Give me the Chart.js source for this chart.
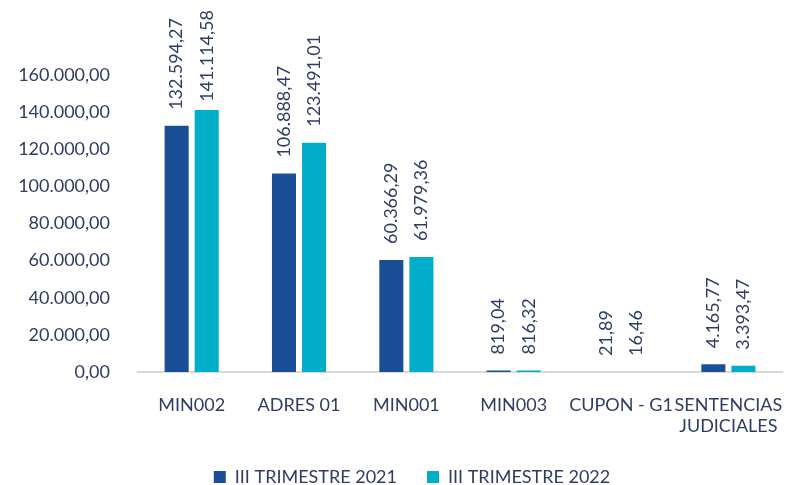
<!DOCTYPE html>
<html>
<head>
<meta charset="utf-8">
<script src="https://cdn.jsdelivr.net/npm/chart.js@4.4.0/dist/chart.umd.min.js"></script>
<style>
  html, body { margin: 0; padding: 0; background: #fff; }
  #wrap { width: 797px; height: 485px; }
</style>
</head>
<body>
<div id="wrap"><canvas id="c"></canvas></div>
<script>
// --- data ---
const categories = ['MIN002', 'ADRES 01', 'MIN001', 'MIN003', 'CUPON - G1', ['SENTENCIAS', 'JUDICIALES']];
const seriesNames = ['III TRIMESTRE 2021', 'III TRIMESTRE 2022'];
const values2021 = [132594.27, 106888.47, 60366.29, 819.04, 21.89, 4165.77];
const values2022 = [141114.58, 123491.01, 61979.36, 816.32, 16.46, 3393.47];
const yTicks = [0, 20000, 40000, 60000, 80000, 100000, 120000, 140000, 160000];

const TEXT = '#2E3D63';
const FONT = 'Lato, "Open Sans", sans-serif';

// 132594.27 -> "132.594,27"
function fmt(v) {
    const parts = v.toFixed(2).split('.');
    const int = parts[0].replace(/\B(?=(\d{3})+(?!\d))/g, '.');
    return int + ',' + parts[1];
}

// vertical value labels above each bar
const barLabels = {
    id: 'barLabels',
    afterDatasetsDraw(chart) {
        const ctx = chart.ctx;
        ctx.save();
        ctx.font = '18px ' + FONT;
        ctx.fillStyle = TEXT;
        ctx.textAlign = 'left';
        ctx.textBaseline = 'middle';
        chart.data.datasets.forEach((ds, di) => {
            chart.getDatasetMeta(di).data.forEach((bar, i) => {
                const txt = fmt(ds.data[i]);
                const w = ctx.measureText(txt).width;
                let y = bar.y - 16;
                if (y - w < 10) y = 10 + w;
                ctx.save();
                ctx.translate(bar.x, y);
                ctx.rotate(-Math.PI / 2);
                ctx.fillText(txt, 0, 0);
                ctx.restore();
            });
        });
        ctx.restore();
    }
};

// legend sits a bit right of centre in the original
const legendShift = {
    id: 'legendShift',
    afterLayout(chart) {
        chart.legend.left += 18;
        chart.legend.right += 18;
    }
};

new Chart(document.getElementById('c'), {
    type: 'bar',
    data: {
        labels: categories,
        datasets: [
            { label: seriesNames[0], data: values2021, backgroundColor: '#1A4E96' },
            { label: seriesNames[1], data: values2022, backgroundColor: '#00AEC9' }
        ]
    },
    options: {
        responsive: true,
        maintainAspectRatio: false,
        animation: false,
        categoryPercentage: 0.56,
        barPercentage: 0.8,
        layout: { padding: { top: 75, right: 9, left: 0, bottom: -11 } },
        plugins: {
            legend: {
                position: 'bottom',
                labels: {
                    color: TEXT,
                    font: { family: FONT, size: 18 },
                    boxWidth: 12,
                    boxHeight: 12,
                    padding: 30
                }
            },
            tooltip: { enabled: false }
        },
        scales: {
            x: {
                grid: { display: false },
                border: { display: true, color: '#D9D9D9', width: 2 },
                ticks: {
                    color: TEXT,
                    font: { family: FONT, size: 18 },
                    maxRotation: 0,
                    autoSkip: false,
                    padding: 14
                },
                afterFit(scale) { scale.height = 66; }
            },
            y: {
                min: 0,
                max: 160000,
                grid: { display: false },
                border: { display: false },
                afterBuildTicks(scale) { scale.ticks = yTicks.map(v => ({ value: v })); },
                ticks: {
                    color: TEXT,
                    font: { family: FONT, size: 18 },
                    padding: 20,
                    callback: v => fmt(v)
                },
                afterFit(scale) { scale.width = 138; }
            }
        }
    },
    plugins: [barLabels, legendShift]
});
</script>
</body>
</html>
